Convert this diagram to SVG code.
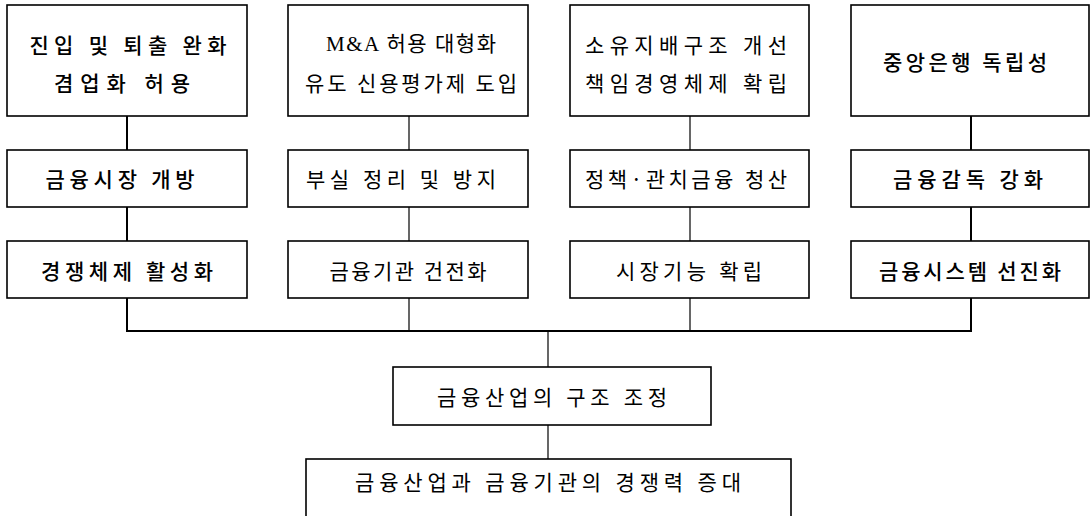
<svg xmlns="http://www.w3.org/2000/svg" width="1091" height="516" viewBox="0 0 1091 516">
<style>
rect{fill:#fff;stroke:#000;stroke-width:1.6}
text{font-family:"Noto Sans CJK KR",sans-serif;font-size:21px;fill:#000;text-anchor:middle;dominant-baseline:central}
.b{font-weight:500}
.s{font-family:"Liberation Serif","Noto Sans CJK KR",serif}
.c line,.c path{stroke:#000;fill:none}
</style>
<rect width="1091" height="516" style="fill:#fff;stroke:none"/>
<g class="c" id="connectors">
<line x1="127" y1="116" x2="127" y2="150" stroke-width="2"/>
<line x1="127" y1="207" x2="127" y2="241" stroke-width="2"/>
<line x1="409" y1="116" x2="409" y2="150" stroke-width="1.2"/>
<line x1="409" y1="207" x2="409" y2="241" stroke-width="1.2"/>
<line x1="690" y1="116" x2="690" y2="150" stroke-width="1.2"/>
<line x1="690" y1="207" x2="690" y2="241" stroke-width="1.2"/>
<line x1="971" y1="116" x2="971" y2="150" stroke-width="2"/>
<line x1="971" y1="207" x2="971" y2="241" stroke-width="2"/>
<path d="M127 298 V331 H971 V298" stroke-width="2"/>
<line x1="409" y1="298" x2="409" y2="331" stroke-width="1.2"/>
<line x1="690" y1="298" x2="690" y2="331" stroke-width="1.2"/>
<line x1="548" y1="331" x2="548" y2="367" stroke-width="1.2"/>
<line x1="548" y1="425" x2="548" y2="459" stroke-width="1.2"/>
</g>
<g id="n1"><rect x="7" y="5" width="240" height="111"/>
<text class="b" x="128" y="44" textLength="197" lengthAdjust="spacing">진입 및 퇴출 완화</text>
<text class="b" x="122" y="82" textLength="136" lengthAdjust="spacing">겸업화 허용</text></g>
<g id="n2"><rect x="288" y="5" width="240" height="111"/>
<text class="s" x="411" y="44" textLength="170" lengthAdjust="spacing">M&amp;A 허용 대형화</text>
<text x="411" y="82" textLength="212" lengthAdjust="spacing">유도 신용평가제 도입</text></g>
<g id="n3"><rect x="570" y="5" width="239" height="111"/>
<text x="686" y="44" textLength="202" lengthAdjust="spacing">소유지배구조 개선</text>
<text x="686" y="82" textLength="202" lengthAdjust="spacing">책임경영체제 확립</text></g>
<g id="n4"><rect x="851" y="5" width="238" height="111"/>
<text class="b" x="965" y="61" textLength="164" lengthAdjust="spacing">중앙은행 독립성</text></g>
<g id="n5"><rect x="7" y="150" width="240" height="57"/>
<text class="b" x="120" y="178" textLength="149" lengthAdjust="spacing">금융시장 개방</text></g>
<g id="n6"><rect x="288" y="150" width="240" height="57"/>
<text x="401" y="178" textLength="190" lengthAdjust="spacing">부실 정리 및 방지</text></g>
<g id="n7"><rect x="570" y="150" width="239" height="57"/>
<text x="686" y="178" textLength="202" lengthAdjust="spacing">정책·관치금융 청산</text></g>
<g id="n8"><rect x="851" y="150" width="238" height="57"/>
<text class="b" x="968" y="178" textLength="150" lengthAdjust="spacing">금융감독 강화</text></g>
<g id="n9"><rect x="7" y="241" width="240" height="57"/>
<text class="b" x="127" y="270" textLength="172" lengthAdjust="spacing">경쟁체제 활성화</text></g>
<g id="n10"><rect x="288" y="241" width="240" height="57"/>
<text x="408" y="270" textLength="157" lengthAdjust="spacing">금융기관 건전화</text></g>
<g id="n11"><rect x="570" y="241" width="239" height="57"/>
<text x="689" y="270" textLength="146" lengthAdjust="spacing">시장기능 확립</text></g>
<g id="n12"><rect x="851" y="241" width="238" height="57"/>
<text class="b" x="970" y="270" textLength="182" lengthAdjust="spacing">금융시스템 선진화</text></g>
<g id="n13"><rect x="393" y="367" width="318" height="58"/>
<text x="552" y="396" textLength="230" lengthAdjust="spacing">금융산업의 구조 조정</text></g>
<g id="n14"><rect x="306" y="459" width="485" height="70"/>
<text x="548" y="481" textLength="386" lengthAdjust="spacing">금융산업과 금융기관의 경쟁력 증대</text></g>
</svg>
